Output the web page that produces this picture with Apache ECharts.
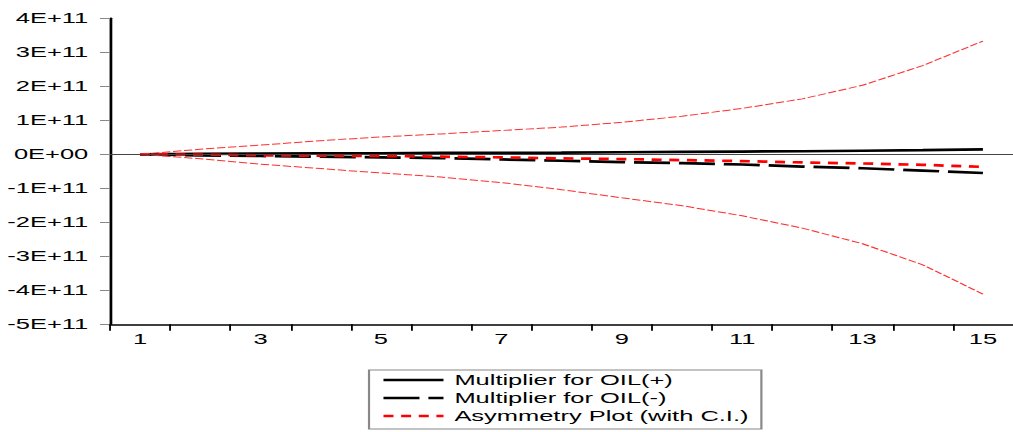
<!DOCTYPE html>
<html>
<head>
<meta charset="utf-8">
<script src="https://cdn.jsdelivr.net/npm/echarts@6/dist/echarts.min.js"></script>
<style>
  html, body { margin: 0; padding: 0; background: #fff; overflow: hidden; }
  #chart { width: 557px; height: 432px; transform: scaleX(1.8187); transform-origin: 0 0; }
</style>
</head>
<body>
<div id="chart"></div>
<script>
// Horizons 1..15
var categories = ['1','2','3','4','5','6','7','8','9','10','11','12','13','14','15'];
var E11 = 1e11;
// Values in units of 1E+11
var oilPos   = [0, 0.01, 0.02, 0.025, 0.03, 0.04, 0.045, 0.05, 0.06, 0.07, 0.08, 0.09, 0.105, 0.12, 0.145];
var oilNeg   = [0, -0.03, -0.05, -0.07, -0.09, -0.11, -0.15, -0.19, -0.23, -0.26, -0.30, -0.36, -0.41, -0.48, -0.55];
var asym     = [0, -0.01, -0.03, -0.04, -0.05, -0.07, -0.09, -0.12, -0.14, -0.17, -0.20, -0.24, -0.27, -0.31, -0.37];
var ciUpper  = [0, 0.15, 0.27, 0.40, 0.51, 0.60, 0.70, 0.80, 0.94, 1.12, 1.35, 1.63, 2.03, 2.61, 3.33];
var ciLower  = [0, -0.13, -0.29, -0.42, -0.55, -0.67, -0.83, -1.04, -1.28, -1.51, -1.81, -2.17, -2.63, -3.25, -4.11];
var yTickLabels = ['-5E+11','-4E+11','-3E+11','-2E+11','-1E+11','0E+00','1E+11','2E+11','3E+11','4E+11'];
var legendNames = ['Multiplier for OIL(+)', 'Multiplier for OIL(-)', 'Asymmetry Plot (with C.I.)'];

var yMin = -5 * E11, yMax = 4 * E11, yInterval = 1 * E11;
function scale(arr) { return arr.map(function (v) { return v * E11; }); }

var FONT = "'Liberation Sans', Arial, sans-serif";
var chart = echarts.init(document.getElementById('chart'), null, { renderer: 'svg' });

chart.setOption({
  animation: false,
  backgroundColor: '#ffffff',
  grid: { left: 60.5, top: 18.3, width: 498, height: 306, containLabel: false },
  legend: {
    orient: 'vertical',
    left: 202.9,
    top: 370,
    data: legendNames,
    itemWidth: 33,
    itemHeight: 14,
    itemGap: 4,
    padding: [3, 7, 6, 6.6],
    borderColor: '#888',
    borderWidth: 1.2,
    itemStyle: { opacity: 0 },
    lineStyle: { width: 2.7 },
    textStyle: { fontFamily: FONT, fontSize: 14, color: '#000', padding: [0, 0, 0, 1] },
    selectedMode: false
  },
  xAxis: {
    type: 'category',
    data: categories,
    boundaryGap: true,
    axisLine: { onZero: false, lineStyle: { color: '#000', width: 1.5 } },
    axisTick: { show: true, length: 6.5, lineStyle: { color: '#000', width: 1 }, alignWithLabel: false, interval: 0 },
    axisLabel: { interval: 1, margin: 8, fontFamily: FONT, fontSize: 14, color: '#000' },
    splitLine: { show: false }
  },
  yAxis: {
    type: 'value',
    min: yMin,
    max: yMax,
    interval: yInterval,
    axisLine: { show: true, onZero: false, lineStyle: { color: '#000', width: 1.5 } },
    axisTick: { show: true, length: 5.5, lineStyle: { color: '#888', width: 1 } },
    axisLabel: {
      margin: 12,
      fontFamily: FONT,
      fontSize: 14,
      color: '#000',
      formatter: function (v) {
        var i = Math.round((v - yMin) / yInterval);
        return yTickLabels[i];
      }
    },
    splitLine: { show: false }
  },
  series: [
    {
      name: legendNames[0], type: 'line', data: scale(oilPos), symbol: 'none', smooth: false,
      lineStyle: { color: '#000', width: 2.7, type: 'solid' },
      itemStyle: { color: '#000' },
      markLine: {
        silent: true, symbol: ['none', 'none'], label: { show: false },
        lineStyle: { color: '#444', width: 1, type: 'solid' },
        emphasis: { disabled: true },
        data: [{ yAxis: 0 }]
      },
      z: 2
    },
    {
      name: legendNames[1], type: 'line', data: scale(oilNeg), symbol: 'none',
      lineStyle: { color: '#000', width: 2.7, type: [19.8, 4.9] },
      itemStyle: { color: '#000' },
      z: 3
    },
    {
      name: legendNames[2], type: 'line', data: scale(asym), symbol: 'none',
      lineStyle: { color: '#ff0000', width: 2.7, type: [5.5, 4.2] },
      itemStyle: { color: '#ff0000' },
      z: 4
    },
    {
      name: 'C.I. upper', type: 'line', data: scale(ciUpper), symbol: 'none',
      lineStyle: { color: '#ff3030', width: 1, type: [4.6, 1.5] },
      itemStyle: { color: '#ff3030' },
      z: 4
    },
    {
      name: 'C.I. lower', type: 'line', data: scale(ciLower), symbol: 'none',
      lineStyle: { color: '#ff3030', width: 1, type: [4.6, 1.5] },
      itemStyle: { color: '#ff3030' },
      z: 4
    }
  ]
});
</script>
</body>
</html>
